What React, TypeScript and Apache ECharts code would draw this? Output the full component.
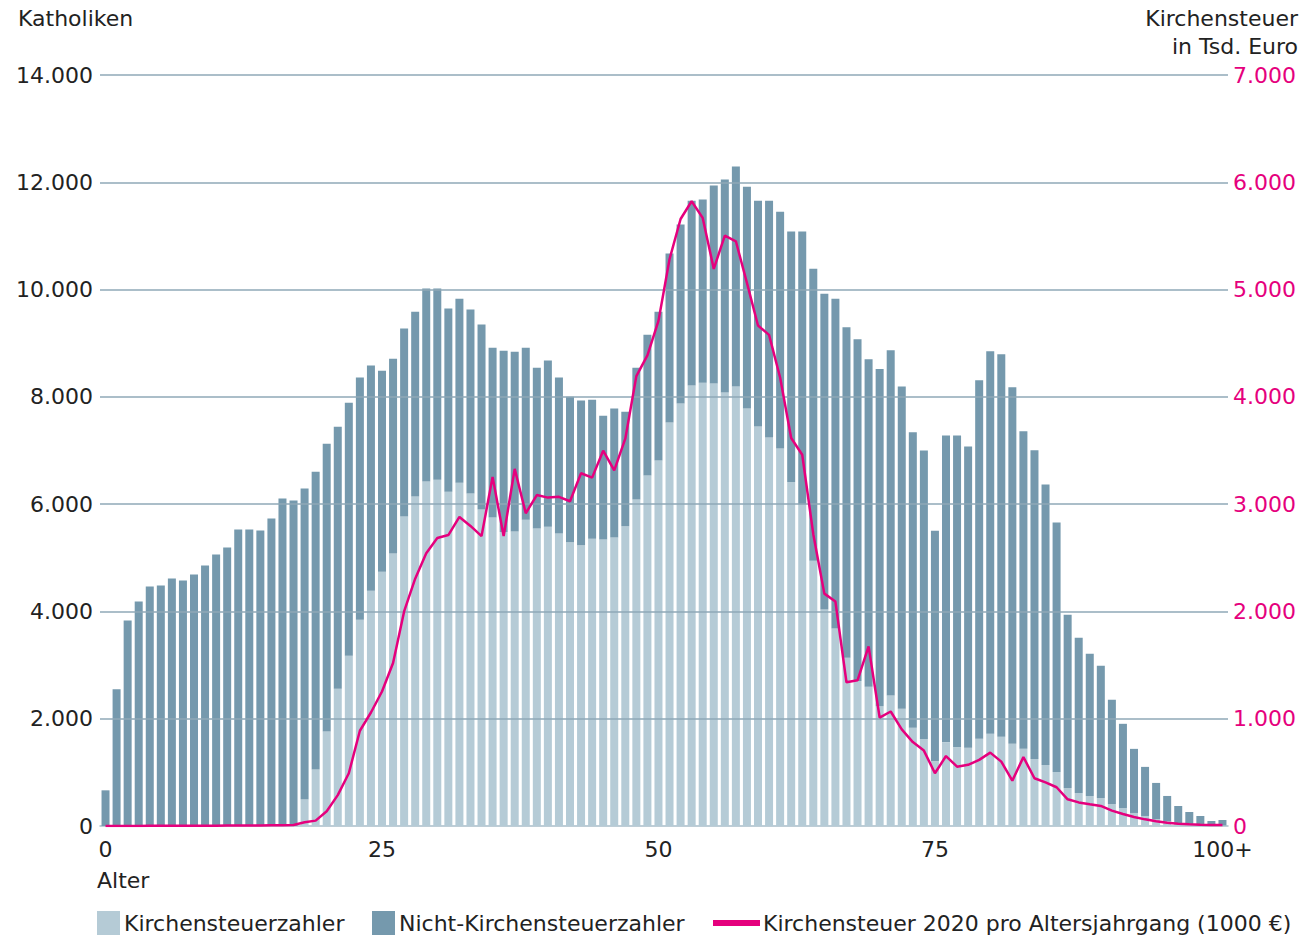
import React, { useEffect, useRef } from "react";
import * as echarts from "echarts";

// Age categories 0..100 plus "100+"
const AGES: string[] = Array.from({ length: 101 }, (_, i) => String(i)).concat(["100+"]);

// Total Catholics per age (Kirchensteuerzahler + Nicht-Kirchensteuerzahler)
const TOTAL = [
  665, 2547, 3832, 4186, 4466, 4484, 4615, 4578, 4689, 4857,
  5062, 5193, 5528, 5528, 5509, 5733, 6104, 6068, 6292, 6603,
  7125, 7444, 7892, 8359, 8583, 8488, 8712, 9275, 9586, 10020,
  10020, 9647, 9831, 9627, 9349, 8915, 8861, 8841, 8915, 8542,
  8678, 8359, 8000, 7932, 7946, 7647, 7783, 7722, 8542, 9158,
  9585, 10671, 11211, 11658, 11677, 11938, 12050, 12292, 11919, 11658,
  11658, 11453, 11081, 11081, 10390, 9920, 9830, 9298, 9074, 8702,
  8519, 8870, 8195, 7340, 7000, 5505, 7280, 7280, 7075, 8310,
  8850, 8795, 8180, 7358, 7003, 6368, 5660, 3940, 3510, 3212,
  2988, 2353, 1905, 1438, 1102, 803, 560, 373, 261, 187,
  93, 112,
];

// Kirchensteuerzahler per age
const PAYERS = [
  0, 0, 0, 0, 0, 0, 0, 0, 0, 0,
  0, 0, 0, 0, 0, 0, 0, 0, 492, 1053,
  1760, 2557, 3173, 3844, 4386, 4739, 5078, 5769, 6142, 6420,
  6454, 6231, 6400, 6197, 5898, 5749, 5480, 5492, 5708, 5546,
  5580, 5451, 5288, 5234, 5356, 5342, 5376, 5586, 6088, 6532,
  6814, 7520, 7874, 8210, 8265, 8250, 8081, 8192, 7783, 7447,
  7242, 7035, 6415, 5993, 4945, 4036, 3684, 3137, 2702, 2596,
  2232, 2435, 2185, 1832, 1620, 1211, 1564, 1472, 1460, 1625,
  1718, 1662, 1531, 1438, 1251, 1139, 1008, 709, 616, 560,
  523, 411, 336, 243, 187, 131, 87, 56, 37, 25,
  12, 10,
];

// Kirchensteuer 2020 per age cohort, in thousand euro
const TAX = [
  1, 1, 1, 1, 2, 2, 2, 2, 3, 3,
  3, 4, 4, 5, 5, 6, 7, 9, 35, 50,
  138, 288, 492, 888, 1058, 1254, 1519, 2000, 2305, 2542,
  2685, 2712, 2881, 2797, 2702, 3254, 2702, 3329, 2915, 3085,
  3061, 3068, 3027, 3288, 3247, 3498, 3315, 3610, 4193, 4387,
  4708, 5283, 5658, 5823, 5668, 5193, 5503, 5450, 5062, 4665,
  4578, 4180, 3616, 3460, 2720, 2166, 2092, 1340, 1358, 1674,
  1011, 1067, 900, 782, 703, 492, 652, 553, 570, 616,
  684, 600, 423, 642, 445, 406, 361, 249, 220, 202,
  187, 143, 112, 84, 62, 44, 31, 22, 16, 12,
  9, 9,
];

const LEFT_TICKS = [2000, 4000, 6000, 8000, 10000, 12000, 14000];
const LABELED_INDICES = [0, 25, 50, 75, 101];

const LIGHT = "#b5cbd6";
const DARK = "#7599ad";
const PINK = "#e5007d";
const GRID = "#8fa8b7";
const TEXT = "#222222";
const FONT = "DejaVu Sans";

const fmt = (v: number) => String(v).replace(/\B(?=(\d{3})+(?!\d))/g, ".");

export default function App() {
  const ref = useRef<HTMLDivElement>(null);

  useEffect(() => {
    document.body.style.margin = "0";
    if (!ref.current) return;
    const chart = echarts.init(ref.current, null, { renderer: "svg" });
    const nonPayers = TOTAL.map((t, i) => t - PAYERS[i]);

    chart.setOption({
      animation: false,
      textStyle: { fontFamily: FONT },
      grid: { left: 100, right: 75, top: 75, bottom: 112, containLabel: false },
      xAxis: {
        type: "category",
        data: AGES,
        boundaryGap: true,
        axisLine: { show: true, lineStyle: { color: "#a9bdc8", width: 1.5 } },
        axisTick: { show: false },
        axisLabel: {
          interval: (idx: number) => LABELED_INDICES.includes(idx),
          color: TEXT,
          fontSize: 22,
          fontFamily: FONT,
          margin: 12,
        },
      },
      yAxis: [
        {
          type: "value",
          min: 0,
          max: 14000,
          interval: 2000,
          splitLine: { show: false },
          axisLine: { show: false },
          axisTick: { show: false },
          axisLabel: {
            color: TEXT,
            fontSize: 22,
            fontFamily: FONT,
            margin: 7,
            formatter: (v: number) => fmt(v),
          },
        },
        {
          type: "value",
          min: 0,
          max: 7000,
          interval: 1000,
          position: "right",
          splitLine: { show: false },
          axisLine: { show: false },
          axisTick: { show: false },
          axisLabel: {
            color: PINK,
            fontSize: 22,
            fontFamily: FONT,
            margin: 5,
            formatter: (v: number) => fmt(v),
          },
        },
      ],
      series: [
        {
          name: "Kirchensteuerzahler",
          type: "bar",
          stack: "kath",
          data: PAYERS,
          barWidth: 8,
          itemStyle: { color: LIGHT },
        },
        {
          name: "Nicht-Kirchensteuerzahler",
          type: "bar",
          stack: "kath",
          data: nonPayers,
          barWidth: 8,
          itemStyle: { color: DARK },
          markLine: {
            silent: true,
            symbol: ["none", "none"],
            label: { show: false },
            lineStyle: { color: GRID, width: 1.5, type: "solid" },
            data: LEFT_TICKS.map((v) => ({ yAxis: v })),
          },
        },
        {
          name: "Kirchensteuer 2020 pro Altersjahrgang (1000 €)",
          type: "line",
          yAxisIndex: 1,
          data: TAX,
          showSymbol: false,
          symbol: "none",
          lineStyle: { color: PINK, width: 2.5 },
          itemStyle: { color: PINK },
          z: 5,
        },
      ],
      graphic: [
        {
          type: "text",
          x: 18,
          y: 18,
          style: { text: "Katholiken", fontSize: 22, fontFamily: FONT, fill: TEXT, verticalAlign: "middle" },
        },
        {
          type: "text",
          x: 1298,
          y: 18,
          style: {
            text: "Kirchensteuer",
            fontSize: 22,
            fontFamily: FONT,
            fill: TEXT,
            align: "right",
            verticalAlign: "middle",
          },
        },
        {
          type: "text",
          x: 1298,
          y: 46,
          style: {
            text: "in Tsd. Euro",
            fontSize: 22,
            fontFamily: FONT,
            fill: TEXT,
            align: "right",
            verticalAlign: "middle",
          },
        },
        {
          type: "text",
          x: 97,
          y: 880,
          style: { text: "Alter", fontSize: 22, fontFamily: FONT, fill: TEXT, verticalAlign: "middle" },
        },
        { type: "rect", shape: { x: 97, y: 911, width: 23, height: 24 }, style: { fill: LIGHT } },
        {
          type: "text",
          x: 124,
          y: 923,
          style: {
            text: "Kirchensteuerzahler",
            fontSize: 22,
            fontFamily: FONT,
            fill: TEXT,
            verticalAlign: "middle",
          },
        },
        { type: "rect", shape: { x: 372, y: 911, width: 23, height: 24 }, style: { fill: DARK } },
        {
          type: "text",
          x: 399,
          y: 923,
          style: {
            text: "Nicht-Kirchensteuerzahler",
            fontSize: 22,
            fontFamily: FONT,
            fill: TEXT,
            verticalAlign: "middle",
          },
        },
        { type: "rect", shape: { x: 713, y: 920, width: 47, height: 6 }, style: { fill: PINK } },
        {
          type: "text",
          x: 763,
          y: 923,
          style: {
            text: "Kirchensteuer 2020 pro Altersjahrgang (1000 €)",
            fontSize: 22,
            fontFamily: FONT,
            fill: TEXT,
            verticalAlign: "middle",
          },
        },
      ],
    });

    return () => chart.dispose();
  }, []);

  return <div ref={ref} style={{ width: 1303, height: 938 }} />;
}
